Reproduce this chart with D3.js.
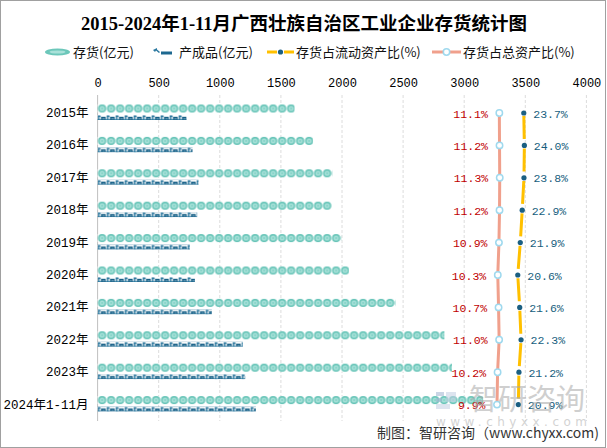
<!DOCTYPE html>
<html><head><meta charset="utf-8">
<script src="https://cdn.jsdelivr.net/npm/d3@7"></script>
<style>body{margin:0;background:#fff}svg{display:block}</style>
</head><body><div id="chart"></div>
<script>
const categories = ["2015年","2016年","2017年","2018年","2019年","2020年","2021年","2022年","2023年","2024年1-11月"];
const stockValues = [1612,1763,1921,1916,1994,2057,2438,2838,2900,3155];
const productValues = [728,777,826,815,755,796,935,1188,1208,1295];
const currentRatio = [23.7,24.0,23.8,22.9,21.9,20.6,21.6,22.3,21.2,20.9];
const totalRatio = [11.1,11.2,11.3,11.2,10.9,10.3,10.7,11.0,10.2,9.9];
const xTicks = [0,500,1000,1500,2000,2500,3000,3500,4000];
const seriesNames = ["存货(亿元)","产成品(亿元)","存货占流动资产比(%)","存货占总资产比(%)"];
const titleText = "2015-2024年1-11月广西壮族自治区工业企业存货统计图";

const W = 607, H = 448;
const svg = d3.select("#chart").append("svg").attr("width", W).attr("height", H);
svg.append("rect").attr("x",0.5).attr("y",0.5).attr("width",W-2).attr("height",H-1)
  .attr("fill","#fff").attr("stroke","#a0a0a0");

const x = d3.scaleLinear().domain([0,4000]).range([97.6,586.4]);
const y = d3.scaleBand().domain(categories).range([96.8,420.8]);
const sub = d3.scaleBand().domain(["stock","product"]).range([-9,9]);
const pct = d3.scaleLinear().domain([0,25]).range([477.8,526.3]);
const bw = y.bandwidth();
const cy = c => y(c) + bw/2;

const defs = svg.append("defs");
categories.forEach((c,i)=>{
  const by = cy(c) + sub("stock") + (sub.bandwidth()-8)/2;
  const p = defs.append("pattern").attr("id","stock"+i).attr("patternUnits","userSpaceOnUse")
    .attr("x",x(0)).attr("y",by).attr("width",9).attr("height",8);
  p.append("rect").attr("width",9).attr("height",8).attr("fill","#fff");
  p.append("circle").attr("cx",4.5).attr("cy",4).attr("r",4.1).attr("fill","#66c4b7");
  p.append("circle").attr("cx",4.5).attr("cy",4).attr("r",2.6).attr("fill","#a7e0d8");
  p.append("circle").attr("cx",4.5).attr("cy",4).attr("r",1).attr("fill","#7ccfc3");
  const by2 = cy(c) + sub("product") + (sub.bandwidth()-5)/2;
  const q = defs.append("pattern").attr("id","prod"+i).attr("patternUnits","userSpaceOnUse")
    .attr("x",x(0)).attr("y",by2).attr("width",9).attr("height",5);
  q.append("rect").attr("width",9).attr("height",5).attr("fill","#ffffff");
  q.append("rect").attr("x",0).attr("y",4.2).attr("width",9).attr("height",0.8).attr("fill","#3b88ad");
  q.append("rect").attr("x",0.3).attr("y",0.6).attr("width",1.5).attr("height",4.4).attr("fill","#1f6f98");
  q.append("rect").attr("x",0.3).attr("y",0.6).attr("width",2.8).attr("height",1.2).attr("fill","#1f6f98");
  q.append("rect").attr("x",3.3).attr("y",1.8).attr("width",4.8).attr("height",3.2).attr("fill","#175f86");
  q.append("rect").attr("x",4.8).attr("y",3).attr("width",0.6).attr("height",1.4).attr("fill","#9cc6da");
  q.append("rect").attr("x",6.4).attr("y",3).attr("width",0.6).attr("height",1.4).attr("fill","#9cc6da");
});

svg.append("text").attr("x",304).attr("y",30).attr("text-anchor","middle")
  .attr("font-family","'Liberation Serif','Noto Sans CJK SC'").attr("font-weight","bold")
  .attr("font-size",18.5).attr("fill","#000").text(titleText);

const lg = svg.append("g").attr("font-family","'Noto Sans CJK SC'").attr("font-size",13).attr("fill","#111");
const legY = 52;
lg.append("ellipse").attr("cx",57.5).attr("cy",legY).attr("rx",12.5).attr("ry",3.6).attr("fill","#6cc7ba");
lg.append("ellipse").attr("cx",57.5).attr("cy",legY).attr("rx",8).attr("ry",1.6).attr("fill","#a9e1d9");
lg.append("text").attr("x",73).attr("y",legY+4.5).text(seriesNames[0]);
lg.append("path").attr("d",`M153,${legY-2} l4,-2 l0,1.5 l3,2.5 l-1,1 l-3,-2.5 l-1,1.5 z`).attr("fill","#2a78a0");
lg.append("rect").attr("x",161).attr("y",legY-0.5).attr("width",11).attr("height",3).attr("fill","#1d6890");
lg.append("text").attr("x",179).attr("y",legY+4.5).text(seriesNames[1]);
lg.append("line").attr("x1",267).attr("x2",277).attr("y1",legY).attr("y2",legY).attr("stroke","#ffc000").attr("stroke-width",3);
lg.append("line").attr("x1",284).attr("x2",294).attr("y1",legY).attr("y2",legY).attr("stroke","#ffc000").attr("stroke-width",3);
lg.append("circle").attr("cx",280.5).attr("cy",legY).attr("r",2.6).attr("fill","#1b5f82");
lg.append("text").attr("x",296).attr("y",legY+4.5).text(seriesNames[2]);
lg.append("line").attr("x1",432).attr("x2",461).attr("y1",legY).attr("y2",legY).attr("stroke","#f0a08c").attr("stroke-width",3);
lg.append("circle").attr("cx",446.5).attr("cy",legY).attr("r",3.2).attr("fill","#fff").attr("stroke","#9fd9ee").attr("stroke-width",1.5);
lg.append("text").attr("x",463).attr("y",legY+4.5).text(seriesNames[3]);

svg.append("g").selectAll("line").data(xTicks.slice(1)).join("line")
  .attr("x1",d=>x(d)).attr("x2",d=>x(d)).attr("y1",95).attr("y2",421)
  .attr("stroke","#dcdcdc").attr("stroke-dasharray","3,2");

const xa = svg.append("g").attr("transform","translate(0,95)")
  .call(d3.axisTop(x).tickValues(xTicks).tickSize(0).tickPadding(8).tickFormat(d3.format("d")));
xa.select(".domain").remove();
xa.selectAll("text").attr("font-family","'Liberation Mono'").attr("font-size",12).attr("fill","#000");

const ya = svg.append("g").attr("transform",`translate(${x(0)},0)`)
  .call(d3.axisLeft(y).tickSize(0).tickPadding(9));
ya.select(".domain").remove();
ya.selectAll("text").attr("font-family","'Liberation Mono','Noto Sans CJK SC'").attr("font-size",12.5).attr("fill","#000");
svg.append("line").attr("x1",x(0)).attr("x2",x(0)).attr("y1",95).attr("y2",421).attr("stroke","#bfbfbf");

svg.append("g").selectAll("rect").data(categories).join("rect")
  .attr("x",x(0)).attr("y",c=>cy(c)+sub("stock")+(sub.bandwidth()-8)/2)
  .attr("width",(c,i)=>x(stockValues[i])-x(0)).attr("height",8)
  .attr("fill",(c,i)=>`url(#stock${i})`);
svg.append("g").selectAll("rect").data(categories).join("rect")
  .attr("x",x(0)).attr("y",c=>cy(c)+sub("product")+(sub.bandwidth()-5)/2)
  .attr("width",(c,i)=>x(productValues[i])-x(0)).attr("height",5)
  .attr("fill",(c,i)=>`url(#prod${i})`);

const line = d3.line().x(d=>pct(d.v)).y(d=>cy(d.c));
const totalData = categories.map((c,i)=>({c, v: totalRatio[i]}));
const currData = categories.map((c,i)=>({c, v: currentRatio[i]}));
svg.append("path").datum(totalData).attr("d",line).attr("fill","none")
  .attr("stroke","#f0a08c").attr("stroke-width",3);
svg.append("path").datum(currData).attr("d",line).attr("fill","none")
  .attr("stroke","#ffc000").attr("stroke-width",3)
  .attr("stroke-dasharray","23,9.5").attr("stroke-dashoffset",-3);
svg.append("g").selectAll("circle").data(totalData).join("circle")
  .attr("cx",d=>pct(d.v)).attr("cy",d=>cy(d.c)).attr("r",3.2)
  .attr("fill","#fff").attr("stroke","#9fd9ee").attr("stroke-width",1.5);
svg.append("g").selectAll("circle").data(currData).join("circle")
  .attr("cx",d=>pct(d.v)).attr("cy",d=>cy(d.c)).attr("r",2.6).attr("fill","#1b5f82");

svg.append("g").selectAll("text").data(totalData).join("text")
  .attr("x",d=>pct(d.v)-11.5).attr("y",d=>cy(d.c)+4.5).attr("text-anchor","end")
  .attr("font-family","'Liberation Mono'").attr("font-size",11.5).attr("fill","#c00000")
  .text(d=>d.v.toFixed(1)+"%");
svg.append("g").selectAll("text").data(currData).join("text")
  .attr("x",d=>pct(d.v)+9.5).attr("y",d=>cy(d.c)+4.5).attr("text-anchor","start")
  .attr("font-family","'Liberation Mono'").attr("font-size",11.5).attr("fill","#175e7d")
  .text(d=>d.v.toFixed(1)+"%");

const wm = svg.append("g").attr("opacity",0.55);
wm.append("rect").attr("x",436).attr("y",392).attr("width",8).attr("height",4).attr("fill","#9fb3d1");
wm.append("rect").attr("x",436).attr("y",398).attr("width",6).attr("height",4).attr("fill","#9fb3d1");
wm.append("rect").attr("x",436).attr("y",404).attr("width",14).attr("height",5).attr("fill","#c3cfe2");
wm.append("rect").attr("x",446).attr("y",392).attr("width",10).attr("height",10).attr("fill","#c3cfe2");
wm.append("text").attr("x",469).attr("y",410).attr("font-family","'Noto Sans CJK SC'").attr("font-size",29)
  .attr("fill","#a8a8a8").text("智研咨询");
wm.append("text").attr("x",436).attr("y",426).attr("font-family","'DejaVu Sans'").attr("font-size",12)
  .attr("fill","#b0b0b0").attr("textLength",151).attr("lengthAdjust","spacing").text("www.chyxx.com");

svg.append("text").attr("x",599).attr("y",438).attr("text-anchor","end")
  .attr("font-family","'Noto Sans CJK SC'").attr("font-size",14).attr("fill","#333")
  .text("制图：智研咨询（www.chyxx.com)");
</script></body></html>
